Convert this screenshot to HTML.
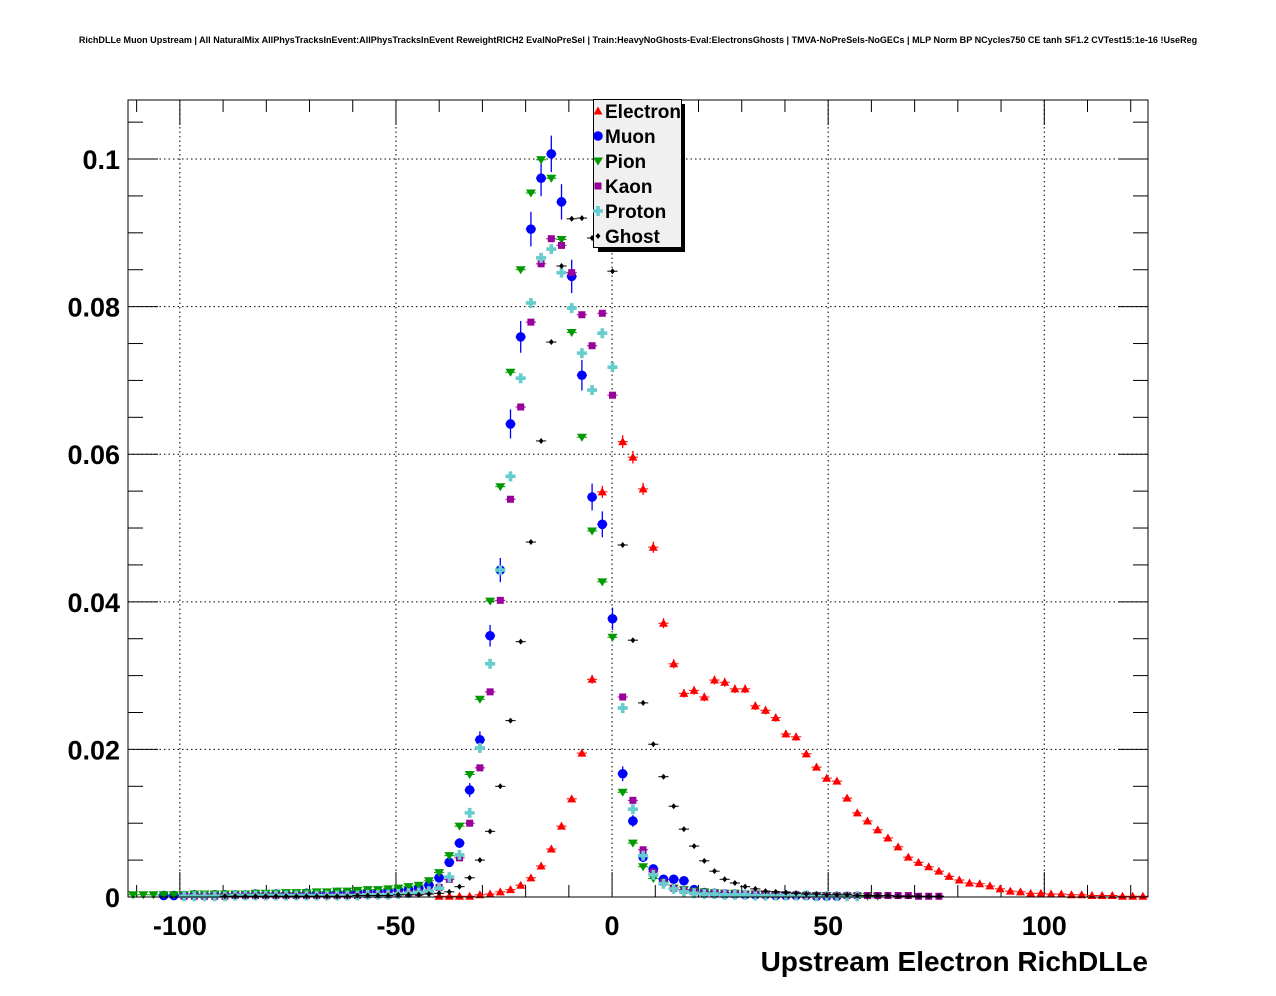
<!DOCTYPE html>
<html><head><meta charset="utf-8">
<style>
html,body{margin:0;padding:0;background:#fff;}
svg{display:block;font-family:"Liberation Sans",Arial,sans-serif;}
</style></head>
<body>
<svg id="chart" width="1276" height="996" viewBox="0 0 1276 996" xmlns="http://www.w3.org/2000/svg">
<rect x="0" y="0" width="1276" height="996" fill="#fff"/>
<text x="638" y="43" text-anchor="middle" font-size="9.05" font-weight="bold">RichDLLe Muon Upstream | All NaturalMix AllPhysTracksInEvent:AllPhysTracksInEvent ReweightRICH2 EvalNoPreSel | Train:HeavyNoGhosts-Eval:ElectronsGhosts | TMVA-NoPreSels-NoGECs | MLP Norm BP NCycles750 CE tanh SF1.2 CVTest15:1e-16 !UseReg</text>
<g id="grid"></g>
<g id="axes"></g>
<g id="series"></g>
<rect x="128" y="100" width="1020" height="797" fill="none" stroke="#000" stroke-width="1"/>
<text x="1148" y="971" text-anchor="end" font-size="28" font-weight="bold">Upstream Electron RichDLLe</text>
<g id="legend"></g>
</svg>
<script>
const xMin = -112, xMax = 124, nBins = 100;
const yMin = 0, yMax = 0.108;
const xTickLabels = ["-100", "-50", "0", "50", "100"];
const xTickValues = [-100, -50, 0, 50, 100];
const yTickLabels = ["0", "0.02", "0.04", "0.06", "0.08", "0.1"];
const yTickValues = [0, 0.02, 0.04, 0.06, 0.08, 0.1];
const seriesNames = ["Electron", "Muon", "Pion", "Kaon", "Proton", "Ghost"];

const electron = [
0,0,0,0,0,0,0,0,0,0,
0,0,0,0,0,0,0,0,0,0,
0,0,0,0,0,0,0,0,0,0,
0.0001,0.0001,0.0001,0.0001,0.0003,0.0004,0.0007,0.001,0.0016,0.0026,
0.0042,0.0065,0.0096,0.0133,0.0195,0.0295,0.0549,0.093,0.0617,0.0596,
0.0553,0.0474,0.0371,0.0316,0.0276,0.028,0.0271,0.0294,0.0291,0.0282,
0.0282,0.0259,0.0253,0.0243,0.0221,0.0217,0.0194,0.0176,0.0161,0.0157,
0.0134,0.0114,0.0103,0.0091,0.008,0.0068,0.0054,0.0047,0.0041,0.0035,
0.0028,0.0023,0.0019,0.0018,0.0015,0.0011,0.0008,0.0007,0.0005,0.0005,
0.0004,0.0004,0.0003,0.0003,0.0002,0.0002,0.0002,0.0001,0.0001,0.0001];
const muon = [
0,0,0,0.0002,0.0002,0.0002,0.0003,0.0002,0.0003,0.0003,
0.0003,0.0003,0.0004,0.0003,0.0004,0.0004,0.0004,0.0005,0.0005,0.0005,
0.0006,0.0006,0.0006,0.0007,0.0007,0.0008,0.0009,0.001,0.0012,0.0016,
0.0026,0.0047,0.0073,0.0145,0.0213,0.0354,0.0443,0.0641,0.0759,0.0905,
0.0974,0.1007,0.0942,0.0841,0.0707,0.0542,0.0505,0.0377,0.0167,0.0103,
0.0054,0.0038,0.0024,0.0024,0.0022,0.001,0.0006,0.0005,0.0004,0.0004,
0.0003,0.0003,0.0003,0.0002,0.0002,0.0002,0.0002,0.0001,0.0001,0.0001,
0,0,0,0,0,0,0,0,0,0,
0,0,0,0,0,0,0,0,0,0,
0,0,0,0,0,0,0,0,0,0];
const pion = [
0.0003,0.0003,0.0003,0.0003,0.0003,0.0003,0.0004,0.0004,0.0004,0.0004,
0.0004,0.0004,0.0005,0.0005,0.0005,0.0006,0.0006,0.0006,0.0007,0.0007,
0.0008,0.0008,0.0009,0.001,0.001,0.0011,0.0012,0.0014,0.0016,0.0022,
0.0033,0.0056,0.0096,0.0166,0.0268,0.0401,0.0556,0.0711,0.085,0.0954,
0.0999,0.0974,0.0891,0.0765,0.0623,0.0496,0.0427,0.0352,0.0142,0.0073,
0.0041,0.0025,0.0017,0.0012,0.001,0.0008,0.0007,0.0006,0.0005,0.0005,
0.0004,0.0004,0.0003,0.0003,0.0003,0.0002,0.0002,0.0002,0.0002,0.0001,
0.0001,0.0001,0.0001,0.0001,0,0,0,0,0,0,
0,0,0,0,0,0,0,0,0,0,
0,0,0,0,0,0,0,0,0,0];
const kaon = [
0,0,0,0,0,0.0001,0.0001,0.0001,0.0001,0.0001,
0.0002,0.0002,0.0002,0.0002,0.0002,0.0002,0.0002,0.0002,0.0002,0.0002,
0.0002,0.0002,0.0002,0.0003,0.0003,0.0003,0.0004,0.0005,0.0006,0.0008,
0.0013,0.0024,0.0053,0.01,0.0175,0.0278,0.0402,0.0539,0.0664,0.0779,
0.0858,0.0892,0.0883,0.0846,0.0789,0.0747,0.0791,0.068,0.0271,0.0131,
0.0064,0.0034,0.002,0.0012,0.0009,0.0007,0.0006,0.0005,0.0005,0.0004,
0.0004,0.0004,0.0003,0.0003,0.0003,0.0003,0.0002,0.0002,0.0002,0.0002,
0.0002,0.0002,0.0002,0.0002,0.0002,0.0002,0.0002,0.0001,0.0001,0.0001,
0,0,0,0,0,0,0,0,0,0,
0,0,0,0,0,0,0,0,0,0];
const proton = [
0,0,0,0,0,0.0001,0.0001,0.0001,0.0001,0.0001,
0.0002,0.0002,0.0002,0.0002,0.0002,0.0002,0.0002,0.0002,0.0002,0.0002,
0.0002,0.0002,0.0002,0.0003,0.0003,0.0003,0.0004,0.0005,0.0006,0.0008,
0.0012,0.0027,0.0057,0.0114,0.0202,0.0316,0.0443,0.057,0.0703,0.0805,
0.0866,0.0878,0.0846,0.0798,0.0737,0.0687,0.0764,0.0718,0.0256,0.0119,
0.0056,0.003,0.0018,0.0011,0.0007,0.0005,0.0004,0.0004,0.0003,0.0003,
0.0003,0.0002,0.0002,0.0002,0.0002,0.0002,0.0002,0.0001,0.0001,0.0001,
0.0001,0.0001,0,0,0,0,0,0,0,0,
0,0,0,0,0,0,0,0,0,0,
0,0,0,0,0,0,0,0,0,0];
const ghost = [
0,0,0,0,0,0,0,0,0,0.0001,
0.0001,0.0001,0.0001,0.0001,0.0001,0.0001,0.0001,0.0001,0.0001,0.0001,
0.0001,0.0001,0.0002,0.0002,0.0002,0.0002,0.0003,0.0003,0.0003,0.0004,
0.0005,0.0007,0.0014,0.0026,0.005,0.0089,0.015,0.0239,0.0346,0.0481,
0.0618,0.0752,0.0855,0.0919,0.092,0.0893,0.0895,0.0848,0.0477,0.0348,
0.0263,0.0207,0.0163,0.0123,0.0092,0.0069,0.0049,0.0035,0.0024,0.0019,
0.0014,0.0011,0.0008,0.0007,0.0006,0.0005,0.0004,0.0004,0.0003,0.0003,
0.0003,0.0002,0.0002,0.0002,0.0002,0.0001,0.0001,0.0001,0.0001,0.0001,
0,0,0,0,0,0,0,0,0,0,
0,0,0,0,0,0,0,0,0,0];

const NS = "http://www.w3.org/2000/svg";
const L = 128, R = 1148, T = 100, B = 897;
function xs(v){ return L + (v - xMin) / (xMax - xMin) * (R - L); }
function ys(v){ return B - (v - yMin) / (yMax - yMin) * (B - T); }
function mk(tag, attrs, parent){
  const e = document.createElementNS(NS, tag);
  for (const k in attrs) e.setAttribute(k, attrs[k]);
  parent.appendChild(e);
  return e;
}
const grid = document.getElementById("grid");
const axes = document.getElementById("axes");
const seriesG = document.getElementById("series");
const legend = document.getElementById("legend");

xTickValues.forEach(v => {
  const g = mk("line", {x1: xs(v), x2: xs(v), y1: T, y2: B, stroke: "#000", "stroke-width": 1, "stroke-dasharray": "1.5,3"}, grid);
  
  
});
yTickValues.forEach(v => {
  if (v === 0) return;
  const g = mk("line", {x1: L, x2: R, y1: ys(v), y2: ys(v), stroke: "#000", "stroke-width": 1, "stroke-dasharray": "1.5,3"}, grid);
  
  
});
for (let v = -110; v <= 120; v += 10) {
  const major = (v % 50 === 0);
  const len = major ? 25 : 12;
  const t1 = mk("line", {x1: xs(v), x2: xs(v), y1: B, y2: B - len, stroke: "#000"}, axes);
  
  
  const t2 = mk("line", {x1: xs(v), x2: xs(v), y1: T, y2: T + len, stroke: "#000"}, axes);
  
  
}
xTickValues.forEach((v, i) => {
  const t = mk("text", {x: xs(v), y: 935, "text-anchor": "middle", "font-size": 27, "font-weight": "bold"}, axes);
  t.textContent = xTickLabels[i];
  
  
});
for (let k = 0; k <= 21; k++) {
  const v = k * 0.005;
  const major = (k % 4 === 0);
  const len = major ? 30 : 15;
  const t1 = mk("line", {x1: L, x2: L + len, y1: ys(v), y2: ys(v), stroke: "#000"}, axes);
  
  
  const t2 = mk("line", {x1: R, x2: R - len, y1: ys(v), y2: ys(v), stroke: "#000"}, axes);
  
  
}
yTickValues.forEach((v, i) => {
  const t = mk("text", {x: 120, y: ys(v) + 10, "text-anchor": "end", "font-size": 27, "font-weight": "bold"}, axes);
  t.textContent = yTickLabels[i];
  
  
});

const seriesData = [electron, muon, pion, kaon, proton, ghost];
const colors = ["#ff0000", "#0000ff", "#009900", "#990099", "#66cccc", "#000000"];
const errK = [0.0035, 0.0078, 0.0015, 0.0015, 0.0015, 0.001];
const shapes = ["tri-up", "circle", "tri-down", "square", "cross", "diamond"];

function marker(shape, cx, cy, color, parent){
  let e;
  if (shape === "tri-up") e = mk("polygon", {points: `${cx},${cy-4.5} ${cx-4.5},${cy+3.5} ${cx+4.5},${cy+3.5}`, fill: color}, parent);
  else if (shape === "tri-down") e = mk("polygon", {points: `${cx},${cy+4.5} ${cx-5},${cy-3.5} ${cx+5},${cy-3.5}`, fill: color}, parent);
  else if (shape === "circle") e = mk("circle", {cx: cx, cy: cy, r: 4.8, fill: color}, parent);
  else if (shape === "square") e = mk("rect", {x: cx-3.5, y: cy-3.5, width: 7, height: 7, fill: color}, parent);
  else if (shape === "cross") e = mk("path", {d: `M${cx-1.8},${cy-5}h3.6v3.2h3.2v3.6h-3.2v3.2h-3.6v-3.2h-3.2v-3.6h3.2z`, fill: color}, parent);
  else e = mk("polygon", {points: `${cx},${cy-3} ${cx+2.5},${cy} ${cx},${cy+3} ${cx-2.5},${cy}`, fill: color}, parent);
  return e;
}

const bw = (xMax - xMin) / nBins;
seriesData.forEach((arr, s) => {
  const g = mk("g", {}, seriesG);
  
  
  arr.forEach((v, i) => {
    if (v <= 0) return;
    const xc = xMin + bw * (i + 0.5);
    const cx = xs(xc), cy = ys(v);
    const err = errK[s] * Math.sqrt(v);
    const h = mk("line", {x1: xs(xc - bw/2), x2: xs(xc + bw/2), y1: cy, y2: cy, stroke: colors[s], "stroke-width": 1}, g);
    
    
    if (ys(v - err) - ys(v + err) > 3) {
      const vb = mk("line", {x1: cx, x2: cx, y1: ys(v + err), y2: ys(Math.max(0, v - err)), stroke: colors[s], "stroke-width": 1.3}, g);
      
      
    }
    const m = marker(shapes[s], cx, cy, colors[s], g);
    
    
  });
});

const shadow = mk("rect", {x: 598, y: 104, width: 87, height: 148, fill: "#000"}, legend);


const box = mk("rect", {x: 593.5, y: 99.5, width: 88, height: 148, fill: "#f0f0f0", stroke: "#000", "stroke-width": 1}, legend);


seriesNames.forEach((n, s) => {
  const y = 111 + s * 25;
  const g = mk("g", {}, legend);
  
  
  const m = marker(shapes[s], 598, y, colors[s], g);
  
  
  const t = mk("text", {x: 605, y: y + 7, "font-size": 19, "font-weight": "bold"}, g);
  t.textContent = n;
  
  
});
</script>
</body></html>
